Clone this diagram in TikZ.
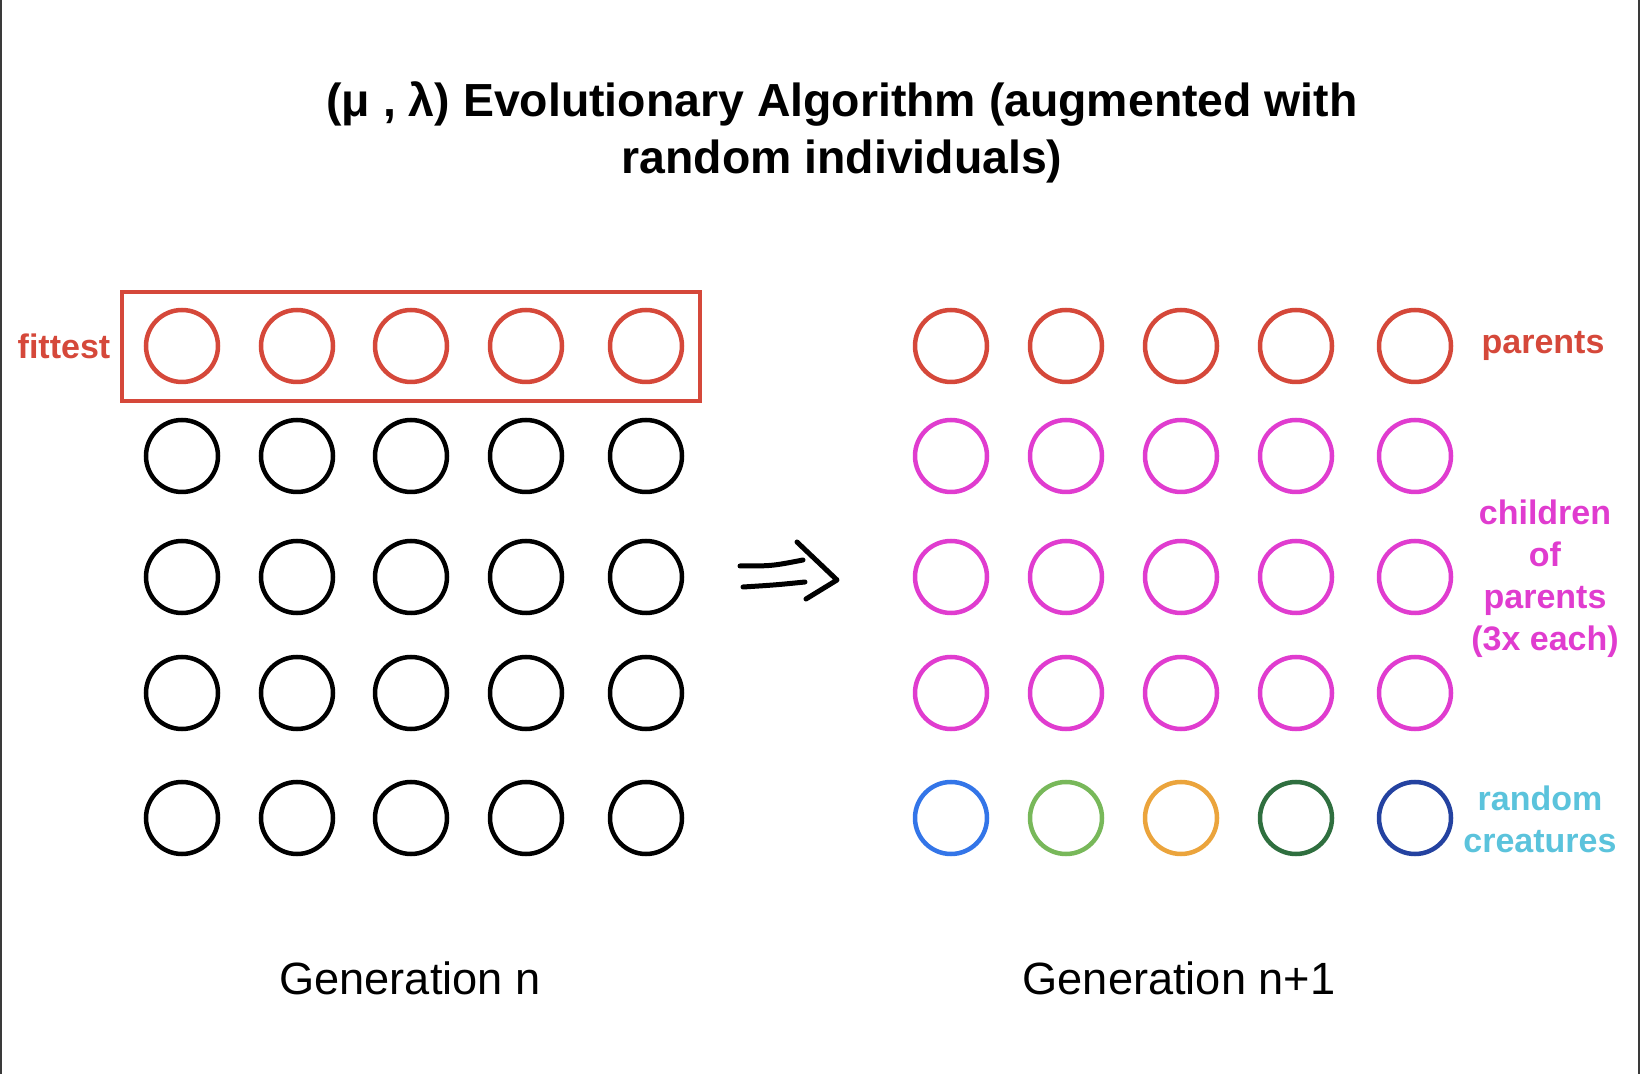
\documentclass[tikz,border=0pt]{standalone}
\usepackage{fontspec}
\setmainfont{Liberation Sans}
\usepackage{tikz}

\definecolor{fitred}{HTML}{D5483A}
\definecolor{kidpink}{HTML}{E03CCF}
\definecolor{rndblue}{HTML}{3375E8}
\definecolor{rndgreen}{HTML}{78B85A}
\definecolor{rndorange}{HTML}{EBA43C}
\definecolor{rnddkgreen}{HTML}{2F6F3F}
\definecolor{rndnavy}{HTML}{2442A0}
\definecolor{rndcyan}{HTML}{5BC3DC}
\definecolor{rimgray}{HTML}{3A3A3A}

\begin{document}
\begin{tikzpicture}[x=0.5pt, y=-0.5pt,
		every node/.style={inner sep=0pt},
		indiv/.style={circle, draw=black, line width=2.25pt, minimum size=36pt},
		sidelbl/.style={font=\bfseries\fontsize{17}{21}\selectfont, align=center},
		genlbl/.style={font=\fontsize{22.6}{27}\selectfont},
		hand/.style={draw=black, line width=2.5pt, line cap=round, line join=round}]
	\useasboundingbox (0,0) rectangle (1640,1074);
	\draw[rimgray, line width=1pt] (1,0) -- (1,1074);
	\draw[rimgray, line width=1pt] (1639,0) -- (1639,1074);

	\node[font=\bfseries\fontsize{23.2}{28.5}\selectfont, align=center] (title) at (842,132)
		{(μ , λ) Evolutionary Algorithm (augmented with\\random individuals)};

	% generation n
	\foreach \x [count=\i] in {182,297,411,526,646} {
		\node[indiv, draw=fitred] (g1-\i) at (\x,346) {};
		\foreach \y [count=\j from 2] in {456,577,693,818}
			\node[indiv] (g\j-\i) at (\x,\y) {};
	}
	\draw[fitred, line width=2pt] (122,292) rectangle (700,401);
	\node[sidelbl, text=fitred] (fittest) at (64,346) {fittest};
	\node[genlbl] (gen) at (410,978) {Generation n};

	% generation n+1
	\foreach \x [count=\i] in {951,1066,1181,1296,1415} {
		\node[indiv, draw=fitred] (h1-\i) at (\x,346) {};
		\foreach \y [count=\j from 2] in {456,577,693}
			\node[indiv, draw=kidpink] (h\j-\i) at (\x,\y) {};
	}
	\foreach \x/\c [count=\i] in {951/rndblue,1066/rndgreen,1181/rndorange,1296/rnddkgreen,1415/rndnavy}
		\node[indiv, draw=\c] (h5-\i) at (\x,818) {};
	\node[sidelbl, text=fitred] (parents) at (1543,346) {parents};
	\node[sidelbl, text=kidpink] (children) at (1545,579) {children\\of\\parents\\(3x each)};
	\node[sidelbl, text=rndcyan] (random) at (1540,819) {random\\creatures};
	\node[genlbl] (nextgen) at (1179,978) {Generation n+1};

	% arrow
	\draw[hand] (740,566) .. controls (772,566) .. (803,560);
	\draw[hand] (743,587) .. controls (775,585) .. (805,582);
	\draw[hand] (797,542) -- (837,580) -- (806,599);
\end{tikzpicture}
\end{document}
